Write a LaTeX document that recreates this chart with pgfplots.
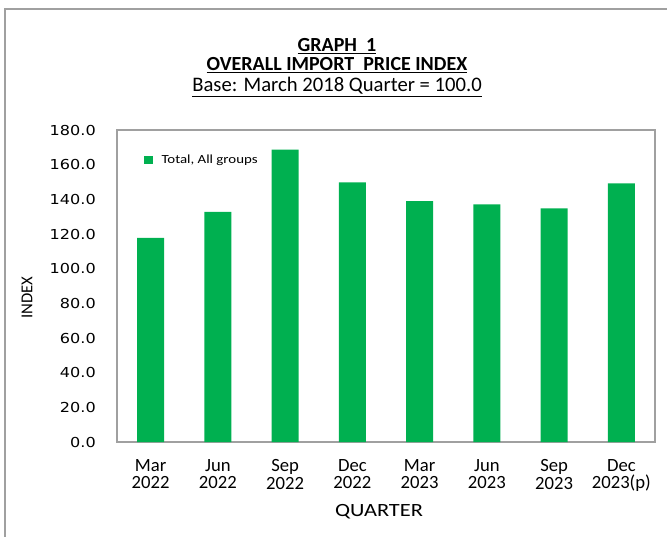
\documentclass[border=0pt]{standalone}
\usepackage{pgfplots}
\pgfplotsset{compat=1.18}
\usepackage{fontspec}
\setmainfont{Carlito}
\newfontfamily\wide{Carlito}[FakeStretch=1.2]
\newfontfamily\tickf{DejaVu Sans}[FakeStretch=1.17]
\definecolor{barg}{RGB}{0,176,80}
\definecolor{frame}{RGB}{160,160,160}

\begin{document}
\begin{tikzpicture}[x=0.75pt,y=0.75pt]
\path[use as bounding box] (0,0) rectangle (667,536);
\begin{scope}
\clip (0,0) rectangle (667,536);
\draw[frame, line width=0.8pt] (5,-10) -- (5,527) -- (680,527);
\end{scope}

\node[font=\fontsize{15}{17}\selectfont\bfseries] at (337,490) {\underline{GRAPH\ \ 1}};
\node[font=\fontsize{15}{17}\selectfont\bfseries] at (337,471) {\underline{OVERALL IMPORT\ \ PRICE INDEX}};
\node[font=\fontsize{15.5}{17}\selectfont] at (337,449) {\underline{Base: March 2018 Quarter = 100.0}};

\begin{axis}[
  at={(87.75pt,70.5pt)}, anchor=south west,
  scale only axis, width=403.5pt, height=234pt,
  xmin=-0.5, xmax=7.5, ymin=0, ymax=180,
  ytick={0,20,...,180},
  xtick={0,...,7},
  xticklabels={{Mar\\2022},{Jun\\2022},{Sep\\2022},{Dec\\2022},{Mar\\2023},{Jun\\2023},{Sep\\2023},{Dec\\2023(p)}},
  xticklabel style={align=center, anchor=north, inner sep=0pt, yshift=-13pt,
    font=\fontsize{14}{13}\selectfont},
  yticklabel style={anchor=east, inner sep=0pt, xshift=-15.75pt,
    font=\tickf\fontsize{10.3}{12}\selectfont},
  /pgf/number format/assume math mode=true,
  yticklabel={\pgfmathprintnumber[fixed,fixed zerofill,precision=1]{\tick}},
  major tick length=0pt,
  axis line style={frame, line width=0.8pt},
  ybar, bar width=0.4,
  legend style={at={(0.05,0.904)}, anchor=west, draw=none, fill=none,
    inner sep=0pt, font=\wide\fontsize{9.3}{10}\selectfont,
    legend cell align=left, nodes={inner sep=0pt}},
  legend image code/.code={\fill[barg] (0pt,-3pt) rectangle (6.75pt,3pt);
    \path (13pt,0pt);},
]
\addplot[fill=barg, draw=none] coordinates
  {(0,117.7) (1,132.7) (2,168.7) (3,149.8) (4,138.9) (5,137.1) (6,134.8) (7,149.2)};
\addlegendentry{Total, All groups}
\end{axis}

\node[rotate=90, font=\fontsize{12.5}{14}\selectfont] at (27,238.5) {INDEX};
\node[font=\wide\fontsize{14}{16}\selectfont] at (379,24) {QUARTER};
\end{tikzpicture}
\end{document}
